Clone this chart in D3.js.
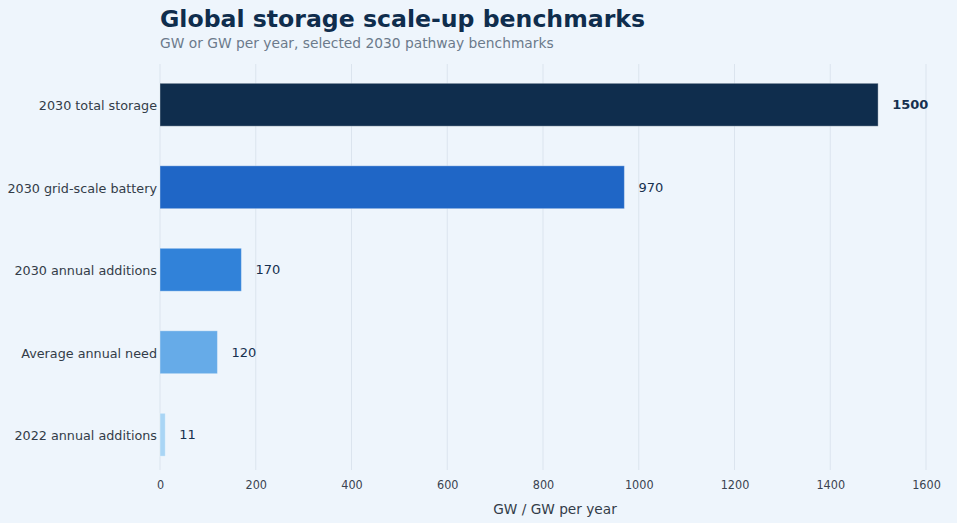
<!DOCTYPE html>
<html>
<head>
<meta charset="utf-8">
<script src="https://cdn.jsdelivr.net/npm/d3@7"></script>
<style>
  html, body { margin: 0; padding: 0; background: #eef5fc; }
  svg { display: block; font-family: "DejaVu Sans", sans-serif; }
  .tick text { font-family: "DejaVu Sans Condensed", "DejaVu Sans", sans-serif; }
</style>
</head>
<body>
<div id="chart"></div>
<script>
const categories = ['2030 total storage', '2030 grid-scale battery', '2030 annual additions', 'Average annual need', '2022 annual additions']
const values = [1500, 970, 170, 120, 11]
const barColors = ['#0f2d4d', '#1f66c6', '#3182d9', '#66abe8', '#a9d5f5']
const xTicks = [0, 200, 400, 600, 800, 1000, 1200, 1400, 1600]

const width = 957, height = 523
const margin = {top: 64, right: 31, bottom: 47, left: 160}

const svg = d3.select('#chart').append('svg')
  .attr('width', width)
  .attr('height', height)

svg.append('rect')
  .attr('width', width).attr('height', height)
  .attr('fill', '#eef5fc')

const x = d3.scaleLinear()
  .domain([0, 1600])
  .range([margin.left, width - margin.right])

const y = d3.scaleBand()
  .domain(categories)
  .range([margin.top - 0.5, height - margin.bottom])
  .paddingInner(0.48)
  .paddingOuter(0.24)

// grid
svg.append('g')
  .selectAll('line')
  .data(xTicks)
  .join('line')
    .attr('x1', d => x(d)).attr('x2', d => x(d))
    .attr('y1', margin.top).attr('y2', height - margin.bottom - 6)
    .attr('stroke', '#dbe4ee')
    .attr('stroke-width', 1)

// x axis
const xAxis = svg.append('g')
  .attr('transform', `translate(0,${height - margin.bottom - 6})`)
  .call(d3.axisBottom(x).tickValues(xTicks).tickFormat(d3.format('d')).tickSize(0).tickPadding(10))
xAxis.select('.domain').remove()
xAxis.selectAll('text')
  .attr('font-size', 12.5)
  .attr('fill', '#3a4350')

// y axis labels
const yAxis = svg.append('g')
  .attr('transform', `translate(${margin.left},1.5)`)
  .call(d3.axisLeft(y).tickSize(0).tickPadding(3))
yAxis.select('.domain').remove()
yAxis.selectAll('text')
  .attr('font-size', 12.75)
  .attr('fill', '#333c48')
  .style('font-family', '"DejaVu Sans", sans-serif')

// bars
svg.append('g')
  .selectAll('rect')
  .data(categories)
  .join('rect')
    .attr('x', x(0))
    .attr('y', d => y(d))
    .attr('width', (d, i) => x(values[i]) - x(0))
    .attr('height', y.bandwidth())
    .attr('fill', (d, i) => barColors[i])
    .attr('stroke', 'rgba(255,255,255,0.35)')
    .attr('stroke-width', 1)

// value labels
svg.append('g')
  .selectAll('text')
  .data(categories)
  .join('text')
    .attr('x', (d, i) => x(values[i]) + 14)
    .attr('y', d => y(d) + y.bandwidth() / 2)
    .attr('dy', '0.35em')
    .attr('font-size', 13)
    .attr('font-weight', (d, i) => i === 0 ? 'bold' : 'normal')
    .attr('fill', '#16304f')
    .text((d, i) => values[i])

// axis title
svg.append('text')
  .attr('x', 555)
  .attr('y', 514)
  .attr('text-anchor', 'middle')
  .attr('font-size', 13.7)
  .attr('fill', '#333c48')
  .text('GW / GW per year')

// title and subtitle
svg.append('text')
  .attr('x', margin.left)
  .attr('y', 27)
  .attr('font-size', 23.6)
  .attr('font-weight', 'bold')
  .attr('fill', '#0f2d4d')
  .text('Global storage scale-up benchmarks')

svg.append('text')
  .attr('x', margin.left)
  .attr('y', 47.5)
  .attr('font-size', 13.8)
  .attr('fill', '#6b7a8b')
  .text('GW or GW per year, selected 2030 pathway benchmarks')
</script>
</body>
</html>
